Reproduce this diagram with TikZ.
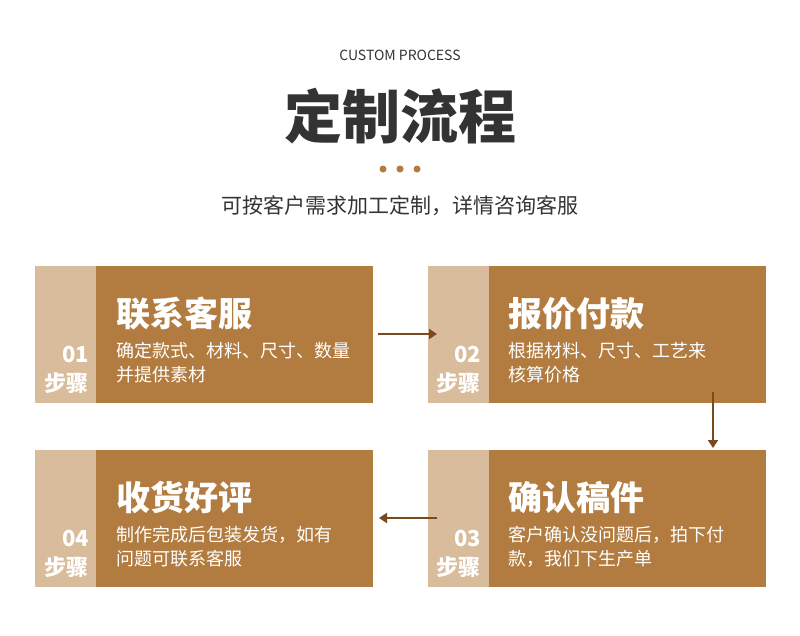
\documentclass[tikz,border=0pt]{standalone}
\usepackage{fontspec}
\setmainfont{Noto Sans CJK SC}
\usetikzlibrary{positioning,arrows.meta}
\definecolor{light}{HTML}{D9BC9C}
\definecolor{dark}{HTML}{B27C40}
\definecolor{arr}{HTML}{7A4A1F}
\definecolor{ink}{HTML}{333333}
\newcommand{\fs}[1]{\fontsize{#1}{#1}\selectfont}
\begin{document}
\begin{tikzpicture}[x=1pt,y=-1pt,
  tab/.style = {fill=light, draw=none, minimum width=61pt, minimum height=137pt, inner sep=0pt},
  card/.style = {fill=dark, draw=none, minimum width=277pt, minimum height=137pt, inner sep=0pt},
  head/.style = {text=white, font=\fs{34}\bfseries, anchor=base west, inner sep=0pt},
  desc/.style = {text=white, font=\fs{18}, anchor=base west, inner sep=0pt},
  num/.style = {text=white, font=\fs{22}\bfseries, anchor=base east, inner sep=0pt},
  flow/.style = {draw=arr, line width=2pt, -{Triangle[length=8pt,width=10pt]}}]
\useasboundingbox (0,0) rectangle (800,635);
\node (en) [text=ink, font=\fs{14}] at (400,55) {CUSTOM PROCESS};
\node (title) [text=ink, font=\fs{58}\bfseries] at (400,116) {定制流程};
\foreach \x in {383,400,417} \fill[dark] (\x,169) circle (3.5pt);
\node (sub) [text=ink, font=\fs{21}] at (400,206) {可按客户需求加工定制，详情咨询客服};
% cards
\node[tab] (t1) at (65.5,334.5) {};
\node[card,right=0pt of t1] (c1) {};
\node[tab] (t2) at (458,334.5) {};
\node[card,right=0pt of t2] (c2) {};
\node[tab] (t4) at (65.5,518.5) {};
\node[card,right=0pt of t4] (c4) {};
\node[tab] (t3) at (458,518.5) {};
\node[card,right=0pt of t3] (c3) {};
% texts
\node[head] at (116,326) {联系客服};
\node[desc] at (116,357) {确定款式、材料、尺寸、数量};
\node[desc] at (116,381) {并提供素材};
\node[num] at (89,362) {01};
\node[num] at (89,391) {步骤};
\node[head] at (508,326) {报价付款};
\node[desc] at (508,357) {根据材料、尺寸、工艺来};
\node[desc] at (508,381) {核算价格};
\node[num] at (481,362) {02};
\node[num] at (481,391) {步骤};
\node[head] at (508,510) {确认稿件};
\node[desc] at (508,541) {客户确认没问题后，拍下付};
\node[desc] at (508,565) {款，我们下生产单};
\node[num] at (481,546) {03};
\node[num] at (481,575) {步骤};
\node[head] at (116,510) {收货好评};
\node[desc] at (116,541) {制作完成后包装发货，如有};
\node[desc] at (116,565) {问题可联系客服};
\node[num] at (89,546) {04};
\node[num] at (89,575) {步骤};
% arrows
\coordinate (a1) at (378,334);
\coordinate (a2) at (437,334);
\coordinate (b1) at (713,392);
\coordinate (b2) at (713,448);
\coordinate (d1) at (437,518);
\coordinate (d2) at (379,518);
\draw[flow] (a1) -- (a2);
\draw[flow] (b1) -- (b2);
\draw[flow] (d1) -- (d2);
\end{tikzpicture}
\end{document}
